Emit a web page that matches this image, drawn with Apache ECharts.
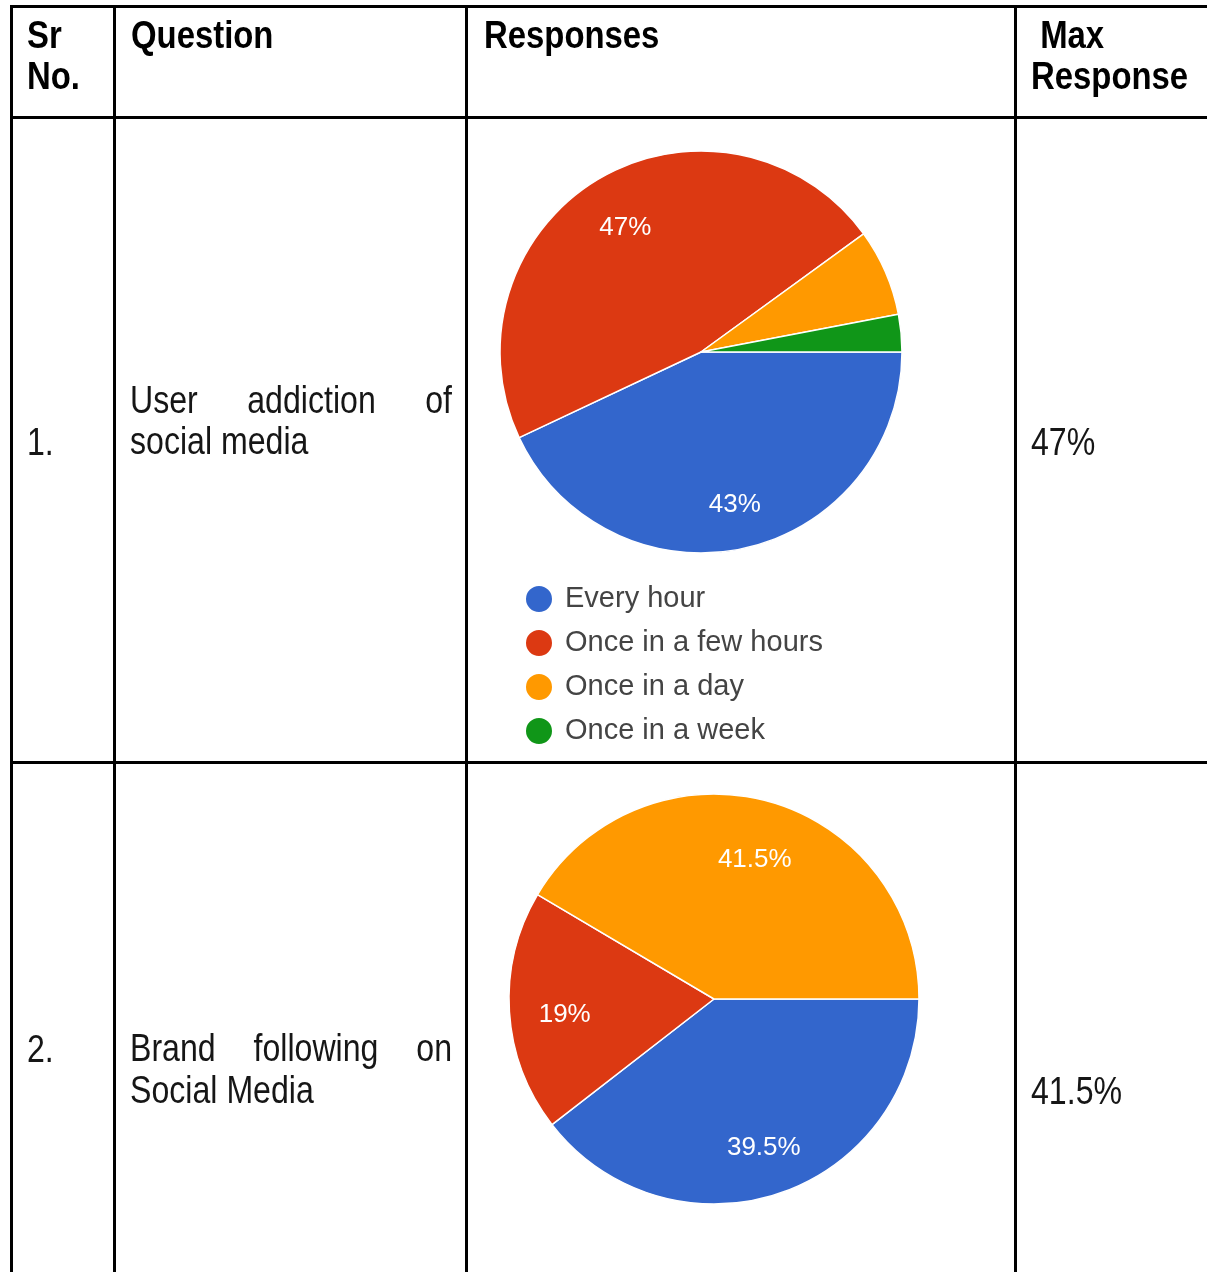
<!DOCTYPE html>
<html>
<head>
<meta charset="utf-8">
<script src="https://cdn.jsdelivr.net/npm/echarts@6/dist/echarts.min.js"></script>
<style>
  html, body { margin: 0; padding: 0; background: #fff; }
  #chart { width: 1207px; height: 1272px; }
</style>
</head>
<body>
<div id="chart"></div>
<script>
// Table text
const headerLine1 = ['Sr', 'Question', 'Responses', ' Max'];
const headerLine2 = ['No.', '', '', 'Response'];
const srNumbers = ['1.', '2.'];
const questionLine1 = ['User addiction of', 'Brand following on'];
const questionLine2 = ['social media', 'Social Media'];

// Survey answers, in percent
const categories1 = ['Every hour', 'Once in a few hours', 'Once in a day', 'Once in a week'];
const values1 = [43, 47, 7, 3];
const categories2 = ['Answer 1', 'Answer 2', 'Answer 3'];
const values2 = [39.5, 19, 41.5];

const palette = ['#3366cc', '#dc3912', '#ff9900', '#109618'];

// ---- layout ----
const W = 1207, H = 1272;
const colLines = [11.5, 114.5, 466.5, 1015.5];
const rowLines = [6.5, 117.5, 762.5];
const LINE_W = 3;

const SANS = '"Liberation Sans", Arial, sans-serif';
const BODY_SIZE = 38;
const BODY_SCALE = 0.845;   // condensed look for the table text
const HEAD_SCALE = 0.865;

const measureCtx = document.createElement('canvas').getContext('2d');
function textWidth(s, font, scale) {
  measureCtx.font = font;
  return measureCtx.measureText(s).width * scale;
}

function text(s, x, y, scale, extra) {
  return {
    type: 'text', x: x, y: y, scaleX: scale, silent: true,
    style: Object.assign({
      text: s, fill: '#161616', fontSize: BODY_SIZE, fontFamily: SANS,
      textAlign: 'left', textVerticalAlign: 'middle'
    }, extra || {})
  };
}

// Spread the words of a line evenly between left and right edges
function justified(line, left, right, y) {
  const words = line.split(' ');
  const font = BODY_SIZE + 'px ' + SANS;
  const widths = words.map(w => textWidth(w, font, BODY_SCALE));
  const total = widths.reduce((a, b) => a + b, 0);
  const gap = words.length > 1 ? (right - left - total) / (words.length - 1) : 0;
  let x = left;
  return words.map((w, i) => {
    const el = text(w, x, y, BODY_SCALE);
    x += widths[i] + gap;
    return el;
  });
}

const graphics = [];

// grid lines
colLines.forEach(x => graphics.push({
  type: 'line', silent: true,
  shape: { x1: x, y1: rowLines[0] - LINE_W / 2, x2: x, y2: H },
  style: { stroke: '#000', lineWidth: LINE_W }
}));
rowLines.forEach(y => graphics.push({
  type: 'line', silent: true,
  shape: { x1: colLines[0] - LINE_W / 2, y1: y, x2: W, y2: y },
  style: { stroke: '#000', lineWidth: LINE_W }
}));

// header
const headerX = [27, 131, 484, 1031];
const headY1 = 38, headY2 = 79;
const headStyle = { fontWeight: 'bold', fill: '#000' };
headerLine1.forEach((s, i) => graphics.push(text(s, headerX[i], headY1, HEAD_SCALE, headStyle)));
headerLine2.forEach((s, i) => { if (s) graphics.push(text(s, headerX[i], headY2, HEAD_SCALE, headStyle)); });

// body rows
const rowLineY = [[403, 444], [1051, 1093]];
const srLine = [1, 0];
const maxLine = [1, 1];
const maxValues = [values1, values2].map(v => Math.max.apply(null, v) + '%');
for (let r = 0; r < 2; r++) {
  const ys = rowLineY[r];
  graphics.push(text(srNumbers[r], 27, ys[srLine[r]] + 1, BODY_SCALE));
  graphics.push.apply(graphics, justified(questionLine1[r], 130, 452, ys[0]));
  graphics.push(text(questionLine2[r], 130, ys[1], BODY_SCALE));
  graphics.push(text(maxValues[r], 1031, ys[maxLine[r]] + 1, BODY_SCALE));
}

// ---- pies ----
function pieSeries(values, names, center, radius, innerRatio) {
  const data = values.map((v, i) => ({ name: names[i], value: v }));
  return [
    {
      type: 'pie', center: center, radius: radius,
      startAngle: 0, clockwise: true,
      data: data, silent: true, animation: false,
      itemStyle: { borderColor: '#fff', borderWidth: 1.5 },
      label: { show: false }, labelLine: { show: false },
      emphasis: { disabled: true }
    },
    {
      // ring used to place the percentage labels further out from the centre
      type: 'pie', center: center, radius: [radius * innerRatio, radius],
      startAngle: 0, clockwise: true,
      data: data, silent: true, animation: false, legendHoverLink: false,
      itemStyle: { color: 'transparent', borderWidth: 0 },
      label: {
        show: true, position: 'inside',
        formatter: p => (p.value >= 10 ? p.value + '%' : ''),
        color: '#fff', fontSize: 26, fontFamily: SANS,
        offset: [1, 6]
      },
      labelLine: { show: false },
      emphasis: { disabled: true }
    }
  ];
}

const chart = echarts.init(document.getElementById('chart'), null, { renderer: 'canvas' });
chart.setOption({
  backgroundColor: '#fff',
  animation: false,
  color: palette,
  legend: {
    data: categories1,
    orient: 'vertical', left: 519, top: 579,
    icon: 'circle', itemWidth: 28, itemHeight: 28, itemGap: 14,
    selectedMode: false,
    textStyle: { fontSize: 29, color: '#444', fontFamily: SANS, padding: [0, 0, 0, 7] }
  },
  series: [].concat(
    pieSeries(values1, categories1, [701, 352], 201, 0.47),
    pieSeries(values2, categories2, [714, 999], 205, 0.44)
  ),
  graphic: { elements: graphics }
});
</script>
</body>
</html>
